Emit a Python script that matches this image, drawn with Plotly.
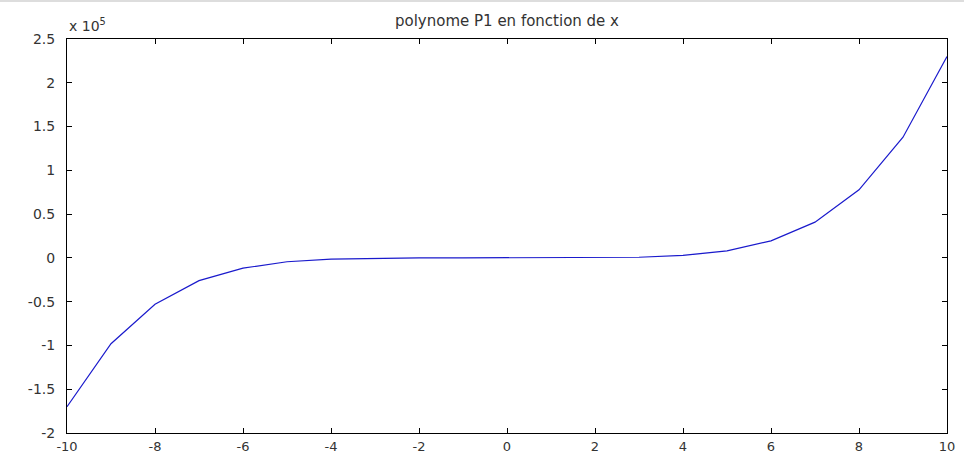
import plotly.graph_objects as go

# Values (y in units of 10^5)
x_values = [-10, -9, -8, -7, -6, -5, -4, -3, -2, -1, 0, 1, 2, 3, 4, 5, 6, 7, 8, 9, 10]
p1_values = [-1.70, -0.98, -0.53, -0.26, -0.117, -0.044, -0.013, -0.0024, -0.0002, 0.0, 0.0,
             0.00005, 0.0011, 0.0073, 0.028, 0.081, 0.194, 0.408, 0.778, 1.378, 2.30]

x_ticks = [-10, -8, -6, -4, -2, 0, 2, 4, 6, 8, 10]
x_tick_labels = ["-10", "-8", "-6", "-4", "-2", "0", "2", "4", "6", "8", "10"]
y_ticks = [-2, -1.5, -1, -0.5, 0, 0.5, 1, 1.5, 2, 2.5]
y_tick_labels = ["-2", "-1.5", "-1", "-0.5", "0", "0.5", "1", "1.5", "2", "2.5"]

title_text = "polynome P1 en fonction de x"
exponent_text = "x 10<sup>5</sup>"

W, H = 964, 455
ml, mr, mt, mb = 67, 17, 39, 22
plot_h = H - mt - mb
plot_w = W - ml - mr

font_family = "DejaVu Sans, Liberation Sans, Arial, sans-serif"
text_color = "#333333"

fig = go.Figure()
fig.add_trace(go.Scatter(
    x=x_values, y=p1_values, mode="lines",
    line=dict(color="#1a1acc", width=1.2),
    showlegend=False, hoverinfo="x+y",
))

axis_common = dict(
    showgrid=False, zeroline=False, automargin=False,
    showline=True, linecolor="#000000", linewidth=1,
    mirror="allticks", ticks="inside", ticklen=5, tickwidth=1, tickcolor="#000000",
)

fig.update_layout(
    template="none",
    width=W, height=H, autosize=False,
    margin=dict(l=ml, r=mr, t=mt, b=mb, pad=0, autoexpand=False),
    paper_bgcolor="white", plot_bgcolor="white",
    title=dict(text=title_text, x=(ml + plot_w / 2) / W, xanchor="center",
               y=1 - 21 / H, yanchor="middle",
               font=dict(family=font_family, size=15, color=text_color)),
    xaxis=dict(range=[-10, 10], tickvals=x_ticks, ticktext=x_tick_labels,
               ticklabelstandoff=1,
               tickfont=dict(family=font_family, size=13, color=text_color),
               **axis_common),
    yaxis=dict(range=[-2, 2.5], tickvals=y_ticks, ticktext=y_tick_labels,
               ticklabelstandoff=8,
               tickfont=dict(family=font_family, size=14, color=text_color),
               **axis_common),
    annotations=[dict(
        text=exponent_text, xref="paper", yref="paper", x=0, y=1,
        xanchor="left", yanchor="bottom", yshift=3, showarrow=False,
        font=dict(family=font_family, size=14, color=text_color),
    )],
    shapes=[dict(
        type="line", xref="paper", yref="paper",
        x0=-ml / plot_w, x1=(W - ml) / plot_w,
        y0=(plot_h + mt - 1) / plot_h, y1=(plot_h + mt - 1) / plot_h,
        line=dict(color="#dddddd", width=2),
    )],
)

fig.write_html("out.html", config={"displayModeBar": False},
               post_script="document.body.style.margin='0';document.body.style.overflow='hidden';")
